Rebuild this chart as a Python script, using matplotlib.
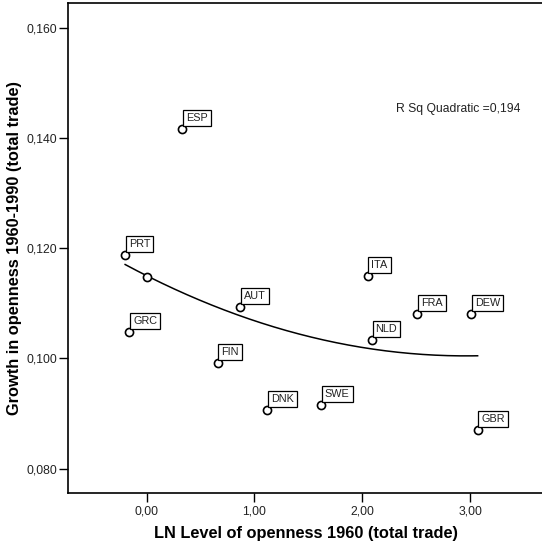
import numpy as np
import matplotlib
matplotlib.use("Agg")
import matplotlib.pyplot as plt
import matplotlib.ticker as ticker

plt.rcParams['font.family'] = ['Liberation Sans', 'DejaVu Sans']

# Country codes and values
countries = ['ESP', 'PRT', '', 'GRC', 'AUT', 'FIN', 'DNK', 'SWE',
             'ITA', 'NLD', 'FRA', 'DEW', 'GBR']
ln_open_1960 = [0.33, -0.20, 0.00, -0.16, 0.87, 0.66, 1.12, 1.62,
                2.05, 2.09, 2.51, 3.01, 3.07]
growth_open = [0.1416, 0.1188, 0.1148, 0.1048, 0.1094, 0.0992, 0.0907, 0.0915,
               0.1150, 0.1034, 0.1081, 0.1081, 0.0870]

x_ticks = [0.0, 1.0, 2.0, 3.0]
y_ticks = [0.080, 0.100, 0.120, 0.140, 0.160]

W, H = 542, 547
fig = plt.figure(figsize=(W / 100, H / 100), dpi=100)
ax = fig.add_axes([68 / W, (H - 493) / H, (545 - 68) / W, 490 / H])

x = np.array(ln_open_1960)
y = np.array(growth_open)

# quadratic fit line
coef = np.polyfit(x, y, 2)
xs = np.linspace(x.min(), x.max(), 200)
ax.plot(xs, np.polyval(coef, xs), color='black', lw=1.1, zorder=2)

ax.scatter(x, y, s=34, facecolor='white', edgecolor='black', linewidth=1.2, zorder=3)

for name, xi, yi in zip(countries, x, y):
    if not name:
        continue
    ax.annotate(name, (xi, yi), xytext=(2.6, 4.2), textcoords='offset points',
                ha='left', va='bottom', fontsize=7.8, color='#222222',
                bbox=dict(boxstyle='square,pad=0.28', facecolor='white',
                          edgecolor='black', linewidth=0.9), zorder=4)

ax.text(396, 547 - 112, 'R Sq Quadratic =0,194', transform=None,
        fontsize=8.7, ha='left', va='baseline', color='#222222')

ax.set_xlim(-0.730, 3.695)
ax.set_ylim(0.07559, 0.16448)
ax.set_xticks(x_ticks)
ax.set_yticks(y_ticks)
ax.xaxis.set_major_formatter(ticker.FuncFormatter(lambda v, p: f'{v:.2f}'.replace('.', ',')))
ax.yaxis.set_major_formatter(ticker.FuncFormatter(lambda v, p: f'{v:.3f}'.replace('.', ',')))
ax.tick_params(direction='out', length=6.3, width=1.0, labelsize=8.8,
               labelcolor='#222222', pad=1.5)
ax.tick_params(axis='x', pad=3)

for side in ['left', 'bottom', 'top', 'right']:
    ax.spines[side].set_linewidth(1.2)

fig.text(306 / W, 1 - 538 / H, 'LN Level of openness 1960 (total trade)',
         ha='center', va='baseline', fontsize=11.8, fontweight='bold')
fig.text(15 / W, 1 - 248 / H, 'Growth in openness 1960-1990 (total trade)',
         ha='center', va='center', rotation=90, fontsize=11.8, fontweight='bold')

fig.savefig('out.png', dpi=100)
